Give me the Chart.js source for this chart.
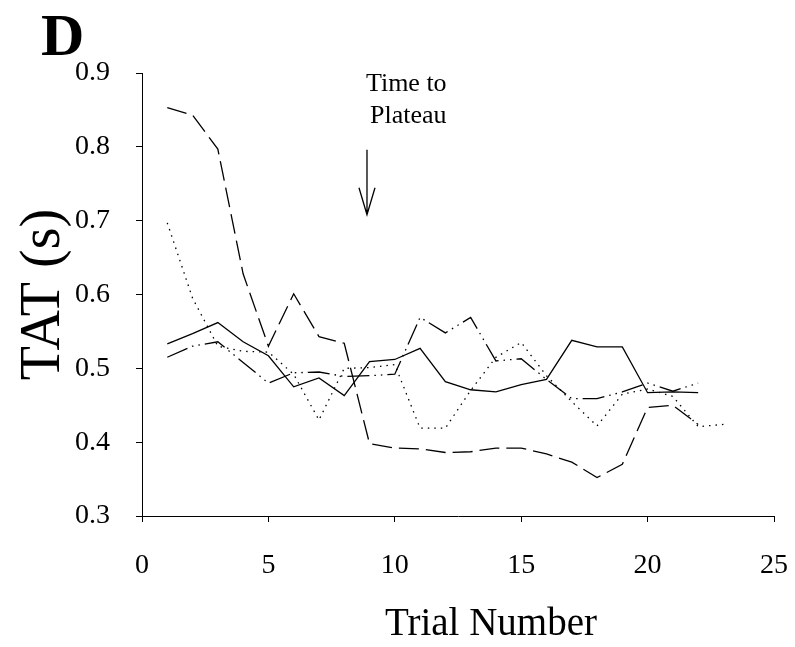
<!DOCTYPE html>
<html lang="en">
<head>
    <meta charset="UTF-8">
    <title>TAT by trial</title>
    <script src="https://cdn.jsdelivr.net/npm/chart.js"></script>
    <style>
        body { margin: 0; background: #fff; }
    </style>
</head>
<body>
    <canvas id="tatChart" width="795" height="647"></canvas>

    <script>
        // values, trial numbers start at 1
        const solidTat   = [0.533, 0.547, 0.562, 0.536, 0.517, 0.475, 0.487, 0.463, 0.509, 0.512, 0.527,
                            0.482, 0.471, 0.468, 0.478, 0.485, 0.538, 0.529, 0.529, 0.467, 0.468, 0.467];
        const dashDotTat = [0.515, 0.530, 0.536, 0.508, 0.480, 0.494, 0.495, 0.489, 0.490, 0.492, 0.569,
                            0.548, 0.569, 0.510, 0.513, 0.485, 0.459, 0.459, 0.468, 0.480, 0.469, 0.480];
        const dottedTat  = [0.697, 0.595, 0.530, 0.523, 0.522, 0.492, 0.430, 0.500, 0.501, 0.505, 0.419,
                            0.419, 0.470, 0.515, 0.535, 0.490, 0.455, 0.422, 0.465, 0.472, 0.462, 0.421, 0.424];
        const dashedTat  = [0.853, 0.843, 0.797, 0.628, 0.530, 0.601, 0.543, 0.534, 0.398, 0.392, 0.391,
                            0.386, 0.387, 0.392, 0.392, 0.384, 0.373, 0.352, 0.370, 0.447, 0.450, 0.424];

        const xTicks = [0, 5, 10, 15, 20, 25];
        const yTicks = [0.3, 0.4, 0.5, 0.6, 0.7, 0.8, 0.9];

        // "Time to Plateau" marker
        const plateauTrial = 8.9;
        const arrowFrom = 0.796;
        const arrowTo = 0.708;
        const noteTrial = 12.05;
        const noteLines = [['Time to', 0.885], ['Plateau', 0.842]];

        const serif = "'Liberation Serif', 'Times New Roman', serif";

        function toPoints(values) {
            return values.map((v, i) => ({ x: i + 1, y: v }));
        }

        function lineSet(label, values, dash) {
            return {
                label: label,
                data: toPoints(values),
                borderColor: '#000',
                borderWidth: 1.3,
                borderDash: dash,
                pointRadius: 0,
                fill: false,
                tension: 0
            };
        }

        const notesPlugin = {
            id: 'notes',
            afterDraw(chart) {
                const ctx = chart.ctx;
                const xs = chart.scales.x;
                const ys = chart.scales.y;
                ctx.save();
                ctx.fillStyle = '#000';
                ctx.strokeStyle = '#000';

                // panel letter
                ctx.font = 'bold 60px ' + serif;
                ctx.textAlign = 'left';
                ctx.textBaseline = 'alphabetic';
                ctx.fillText('D', 41, 55);

                // x title sits right of centre in the original
                ctx.font = '39px ' + serif;
                ctx.textAlign = 'center';
                ctx.textBaseline = 'middle';
                ctx.fillText('Trial Number', 491, 625);

                // note text
                ctx.font = '26px ' + serif;
                ctx.textAlign = 'right';
                noteLines.forEach(([txt, v]) => {
                    ctx.fillText(txt, xs.getPixelForValue(noteTrial), ys.getPixelForValue(v));
                });

                // arrow
                const ax = xs.getPixelForValue(plateauTrial);
                const y0 = ys.getPixelForValue(arrowFrom);
                const y1 = ys.getPixelForValue(arrowTo);
                ctx.lineWidth = 1.3;
                ctx.beginPath();
                ctx.moveTo(ax, y0);
                ctx.lineTo(ax, y1);
                ctx.moveTo(ax - 8, y1 - 27);
                ctx.lineTo(ax, y1);
                ctx.lineTo(ax + 8, y1 - 27);
                ctx.stroke();
                ctx.restore();
            }
        };

        const ctx = document.getElementById('tatChart').getContext('2d');
        new Chart(ctx, {
            type: 'line',
            data: {
                datasets: [
                    lineSet('A', solidTat, []),
                    lineSet('B', dashDotTat, [22, 5, 1.5, 5, 1.5, 5]),
                    lineSet('C', dottedTat, [1.5, 5]),
                    lineSet('D', dashedTat, [20, 7])
                ]
            },
            options: {
                responsive: false,
                animation: false,
                layout: { padding: { left: 0, right: 21, top: 73, bottom: 0 } },
                plugins: {
                    legend: { display: false },
                    tooltip: { enabled: false }
                },
                scales: {
                    x: {
                        type: 'linear',
                        min: 0,
                        max: 25,
                        afterBuildTicks: (s) => { s.ticks = xTicks.map(v => ({ value: v })); },
                        afterFit: (s) => {
                            s.height = 131;
                            s.paddingLeft = 0;
                            s.paddingRight = 0;
                        },
                        border: { display: true, color: '#000', width: 1 },
                        grid: { drawOnChartArea: false, drawTicks: true, tickLength: 6, color: '#000' },
                        ticks: { color: '#000', padding: 27, font: { family: serif, size: 28 } },
                        title: { display: false }
                    },
                    y: {
                        min: 0.3,
                        max: 0.9,
                        afterBuildTicks: (s) => { s.ticks = yTicks.map(v => ({ value: v })); },
                        afterFit: (s) => { s.width = 142; },
                        border: { display: true, color: '#000', width: 1 },
                        grid: { drawOnChartArea: false, drawTicks: true, tickLength: 6, color: '#000' },
                        ticks: {
                            color: '#000',
                            padding: 26,
                            font: { family: serif, size: 28 },
                            callback: (v) => v.toFixed(1)
                        },
                        title: {
                            display: true,
                            text: 'TAT (s)',
                            color: '#000',
                            font: { family: serif, size: 56 },
                            padding: { top: 11, bottom: 0 }
                        }
                    }
                }
            },
            plugins: [notesPlugin]
        });
    </script>
</body>
</html>
